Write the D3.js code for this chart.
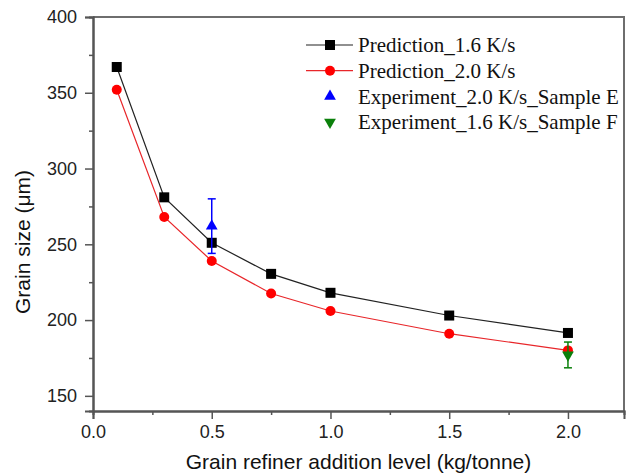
<!DOCTYPE html>
<html>
<head>
<meta charset="utf-8">
<script src="https://cdn.jsdelivr.net/npm/d3@7"></script>
<style>
    body { margin: 0; background: #fff; }
    svg { display: block; }
</style>
</head>
<body>
<div class="canvas"></div>
<script>
// data
const additionLevels = [0.1, 0.3, 0.5, 0.75, 1.0, 1.5, 2.0];
const pred16 = [367, 281, 251, 230.5, 218, 203, 191.5];
const pred20 = [352, 268, 239, 217.5, 206, 191, 180];

// experiments: [x, y, error]
const expE = [0.5, 262, 18];
const expF = [2.0, 177, 8.5];

const yTicks = [150, 200, 250, 300, 350, 400];
const xTicks = [0.0, 0.5, 1.0, 1.5, 2.0];

const legendLabels = [
    'Prediction_1.6 K/s',
    'Prediction_2.0 K/s',
    'Experiment_2.0 K/s_Sample E',
    'Experiment_1.6 K/s_Sample F'
];

// chart box
const dims = { width: 626, height: 476 };
const plot = { left: 93, right: 624, top: 17, bottom: 411 };

const svg = d3.select('.canvas')
    .append('svg')
    .attr('width', dims.width)
    .attr('height', dims.height);

const x = d3.scaleLinear().domain([0, 2.236]).range([plot.left, plot.right]);
const y = d3.scaleLinear().domain([140, 400]).range([plot.bottom, plot.top]);

// top + right frame lines
svg.append('path')
    .attr('d', `M${plot.left},${plot.top}H${plot.right}V${plot.bottom}`)
    .attr('fill', 'none')
    .attr('stroke', '#6e6e6e')
    .attr('stroke-width', 2);

// axes (major + minor ticks)
const axisColor = '#555';

const xMinor = svg.append('g')
    .attr('transform', `translate(0,${plot.bottom})`)
    .call(d3.axisBottom(x).tickValues([0.25, 0.75, 1.25, 1.75]).tickSize(4).tickFormat(''));
const xAxis = svg.append('g')
    .attr('transform', `translate(0,${plot.bottom})`)
    .call(d3.axisBottom(x).tickValues(xTicks).tickSize(8).tickPadding(6).tickFormat(d3.format('.1f')));

const yMinor = svg.append('g')
    .attr('transform', `translate(${plot.left},0)`)
    .call(d3.axisLeft(y).tickValues([175, 225, 275, 325, 375]).tickSize(4).tickFormat(''));
const yAxis = svg.append('g')
    .attr('transform', `translate(${plot.left},0)`)
    .call(d3.axisLeft(y).tickValues(yTicks).tickSize(8).tickPadding(8));

[xMinor, xAxis, yMinor, yAxis].forEach(g => {
    g.select('.domain').attr('stroke', axisColor).attr('stroke-width', 2);
    g.selectAll('line').attr('stroke', axisColor).attr('stroke-width', 1.5);
    g.selectAll('text')
        .attr('fill', '#222')
        .style('font-family', 'Liberation Sans, Arial, sans-serif')
        .style('font-size', '18px');
});

// axis titles
svg.append('text')
    .attr('x', (plot.left + plot.right) / 2)
    .attr('y', 469)
    .attr('text-anchor', 'middle')
    .attr('fill', '#111')
    .style('font-family', 'Liberation Sans, Arial, sans-serif')
    .style('font-size', '21px')
    .text('Grain refiner addition level (kg/tonne)');

svg.append('text')
    .attr('transform', `translate(30,${(plot.top + plot.bottom) / 2 + 28}) rotate(-90)`)
    .attr('text-anchor', 'middle')
    .attr('fill', '#111')
    .style('font-family', 'Liberation Sans, Arial, sans-serif')
    .style('font-size', '21px')
    .text('Grain size (μm)');

// prediction lines
const line = d3.line()
    .x((d, i) => x(additionLevels[i]))
    .y(d => y(d));

svg.append('path')
    .datum(pred16)
    .attr('d', line)
    .attr('fill', 'none')
    .attr('stroke', '#222')
    .attr('stroke-width', 1.2);

svg.append('path')
    .datum(pred20)
    .attr('d', line)
    .attr('fill', 'none')
    .attr('stroke', '#e8262a')
    .attr('stroke-width', 1.2);

// markers
svg.selectAll('.sq')
    .data(pred16)
    .enter().append('rect')
    .attr('x', (d, i) => x(additionLevels[i]) - 5)
    .attr('y', d => y(d) - 5)
    .attr('width', 10)
    .attr('height', 10)
    .attr('fill', '#000');

svg.selectAll('.dot')
    .data(pred20)
    .enter().append('circle')
    .attr('cx', (d, i) => x(additionLevels[i]))
    .attr('cy', d => y(d))
    .attr('r', 5)
    .attr('fill', '#ff0000');

// experiments with error bars
const triUp = d3.symbol().type(d3.symbolTriangle).size(60);

function drawExp(pt, color, flip) {
    const [px, py, err] = pt;
    const g = svg.append('g').attr('stroke', color).attr('stroke-width', 1.5);
    g.append('line')
        .attr('x1', x(px)).attr('x2', x(px))
        .attr('y1', y(py + err)).attr('y2', y(py - err));
    [py + err, py - err].forEach(v => {
        g.append('line')
            .attr('x1', x(px) - 4).attr('x2', x(px) + 4)
            .attr('y1', y(v)).attr('y2', y(v));
    });
    svg.append('path')
        .attr('d', triUp)
        .attr('transform', `translate(${x(px)},${y(py)}) rotate(${flip ? 180 : 0})`)
        .attr('fill', color);
}

drawExp(expE, '#0000ff', false);
drawExp(expF, '#0b800b', true);

// legend
const legend = svg.append('g').attr('transform', 'translate(306,45)');
const rowGap = 25.7;

legendLabels.forEach((label, i) => {
    const row = legend.append('g').attr('transform', `translate(0,${i * rowGap})`);
    if (i === 0) {
        row.append('line').attr('x1', 0).attr('x2', 47).attr('stroke', '#222').attr('stroke-width', 1.2);
        row.append('rect').attr('x', 19).attr('y', -5).attr('width', 10).attr('height', 10).attr('fill', '#000');
    } else if (i === 1) {
        row.append('line').attr('x1', 0).attr('x2', 47).attr('stroke', '#e8262a').attr('stroke-width', 1.2);
        row.append('circle').attr('cx', 24).attr('r', 5).attr('fill', '#ff0000');
    } else {
        row.append('path')
            .attr('d', triUp)
            .attr('transform', `translate(24,0) rotate(${i === 3 ? 180 : 0})`)
            .attr('fill', i === 2 ? '#0000ff' : '#0b800b');
    }
    row.append('text')
        .attr('x', 52)
        .attr('dy', '0.35em')
        .attr('fill', '#111')
        .style('font-family', 'Liberation Serif, Times New Roman, serif')
        .style('font-size', '21px')
        .text(label);
});
</script>
</body>
</html>
